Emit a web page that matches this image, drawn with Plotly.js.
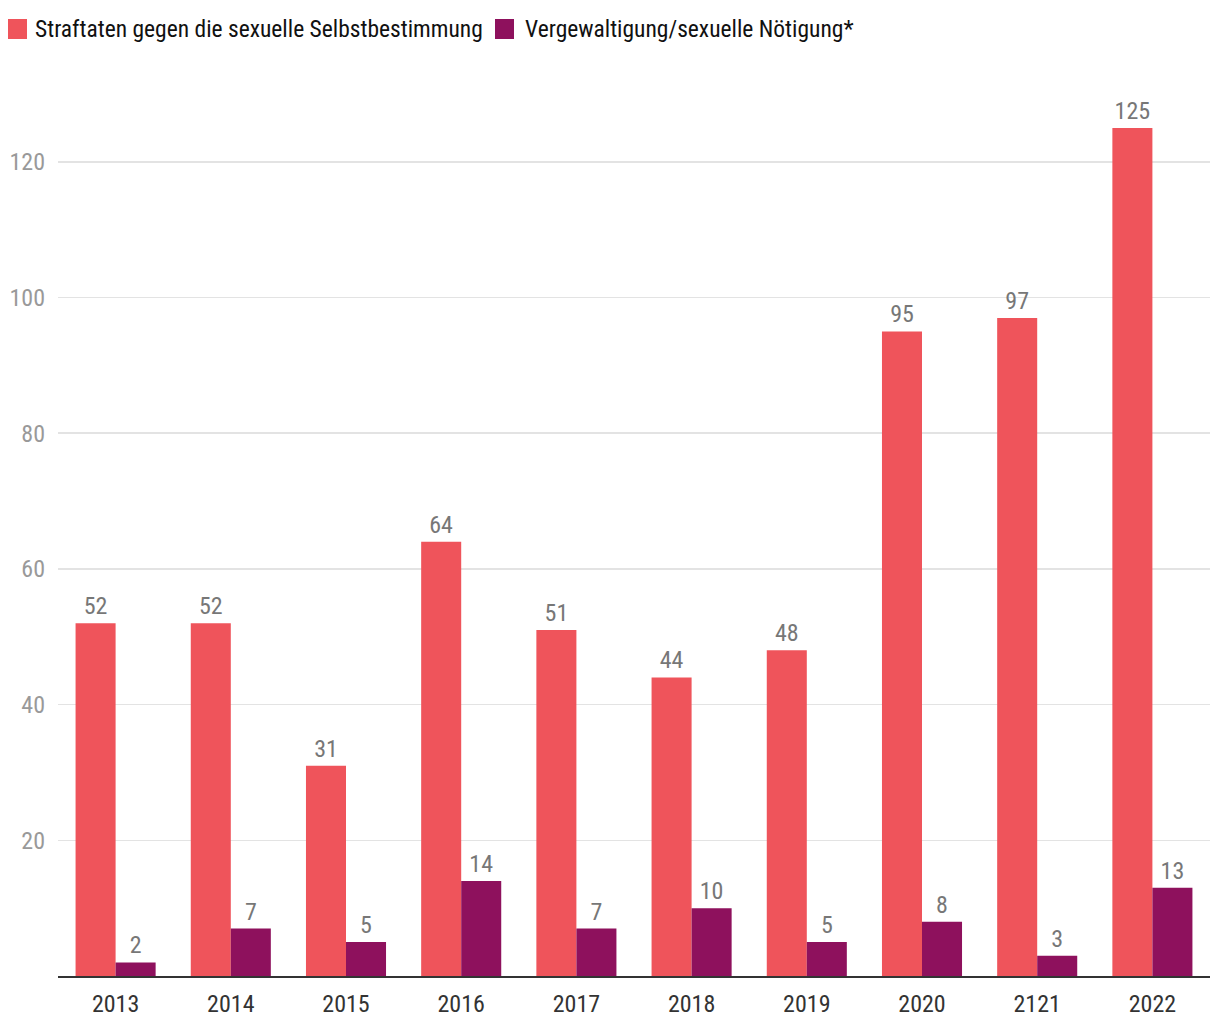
<!DOCTYPE html>
<html>
<head>
<meta charset="utf-8">
<script src="https://cdn.plot.ly/plotly-3.0.1.min.js"></script>
<style>html,body{margin:0;padding:0;background:#fff;}#chart{width:1220px;height:1020px;}</style>
</head>
<body>
<div id="chart"></div>
<script>
const years = ["2013","2014","2015","2016","2017","2018","2019","2020","2121","2022"];
const straftaten = [52,52,31,64,51,44,48,95,97,125];
const vergewaltigung = [2,7,5,14,7,10,5,8,3,13];
const seriesNames = ["Straftaten gegen die sexuelle Selbstbestimmung","Vergewaltigung/sexuelle Nötigung*"];
const seriesColors = ["#ef545b","#8e115d"];
const yTicks = [20,40,60,80,100,120];

const font = '"Roboto Condensed", "Liberation Sans Narrow", "Roboto", sans-serif';

const traces = [straftaten, vergewaltigung].map((vals, i) => ({
  type:'bar', x:years, y:vals, name:seriesNames[i], marker:{color:seriesColors[i]},
  text:vals.map(String), textposition:'outside', cliponaxis:false,
  textfont:{color:'#777', size:24, family:font}, hoverinfo:'y'
}));

// custom legend (pixel positions via paper coords)
const W = 1220, H = 1020, ml = 58, mr = 10, mt = 94, mb = 44;
const pw = W - ml - mr, ph = H - mt - mb;
const px = x => (x - ml) / pw;
const py = y => (H - mb - y) / ph;
const legendItems = [{sx:8, tx:33}, {sx:495, tx:523}];
const shapes = legendItems.map((it, i) => ({
  type:'rect', xref:'paper', yref:'paper',
  x0:px(it.sx), x1:px(it.sx + 19), y0:py(39), y1:py(19),
  fillcolor:seriesColors[i], line:{width:0}
}));
const annotations = legendItems.map((it, i) => ({
  xref:'paper', yref:'paper', x:px(it.tx), y:py(29), xanchor:'left', yanchor:'middle',
  text:seriesNames[i], showarrow:false, font:{size:23.5, color:'#111', family:font}
}));

const layout = {
  width:W, height:H,
  margin:{l:ml, r:mr, t:mt, b:mb},
  paper_bgcolor:'#fff', plot_bgcolor:'#fff',
  font:{family:font},
  barmode:'group', bargap:0.305, bargroupgap:0,
  showlegend:false,
  shapes:shapes, annotations:annotations,
  xaxis:{type:'category', showgrid:false, showline:true, linecolor:'#333', linewidth:2,
         ticks:'', ticklabelstandoff:5, automargin:false,
         tickfont:{size:24, color:'#333', family:font}, fixedrange:true},
  yaxis:{range:[0,130], tickvals:yTicks, showgrid:true, gridcolor:'#e3e3e3', gridwidth:1.5,
         zeroline:false, showline:false, ticks:'', ticklabelstandoff:12, automargin:false,
         tickfont:{size:24, color:'#999', family:font}, fixedrange:true}
};

Plotly.newPlot('chart', traces, layout, {displayModeBar:false, staticPlot:true});
</script>
</body>
</html>
